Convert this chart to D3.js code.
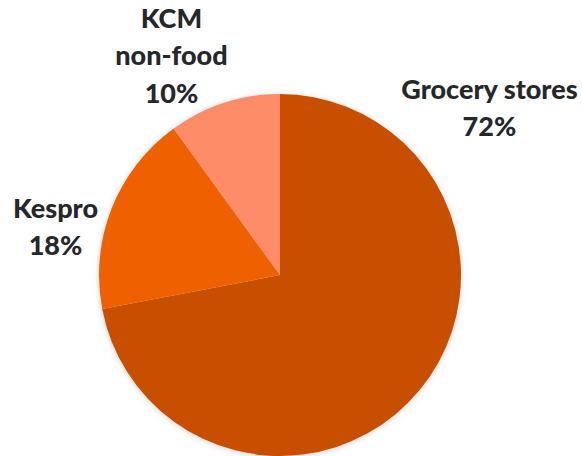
<!DOCTYPE html>
<html><head><meta charset="utf-8">
<script src="https://cdn.jsdelivr.net/npm/d3@7"></script>
<style>
html,body{margin:0;padding:0;background:#fff;}
svg text{font-family:Lato,"Open Sans",sans-serif;font-weight:900;fill:#25272a;}
</style></head>
<body>
<svg id="chart" width="582" height="456"></svg>
<script>
const categories = ["Grocery stores", "Kespro", "KCM non-food"];
const values = [72, 18, 10];
const labelLines = [["Grocery stores", "72%"], ["Kespro", "18%"], ["KCM", "non-food", "10%"]];
const colors = ["#C85000", "#EE6100", "#FF8C69"];

const W = 582, H = 456;
const cx = 280, cy = 275, R = 181;
const svg = d3.select("#chart");

const defs = svg.append("defs");
const f = defs.append("filter").attr("id","sh").attr("x","-20%").attr("y","-20%").attr("width","140%").attr("height","140%");
f.append("feDropShadow").attr("dx",0).attr("dy",1).attr("stdDeviation",3).attr("flood-color","#000").attr("flood-opacity",0.18);

const data = categories.map((c,i)=>({cat:c, value:values[i], lines:labelLines[i], color:colors[i]}));
const pie = d3.pie().value(d=>d.value).sort(null).startAngle(0).endAngle(2*Math.PI);
const arcs = pie(data);
const arc = d3.arc().innerRadius(0).outerRadius(R);

const g = svg.append("g").attr("transform",`translate(${cx},${cy})`);
g.append("g").attr("filter","url(#sh)")
  .selectAll("path").data(arcs).join("path")
  .attr("d", arc).attr("fill", d=>d.data.color);

// label anchors: angle (deg, clockwise from top) and distance from centre
const labelAngle = [51.4, -77.9, -26.3];
const labelDist = [268, 229.6, 245];
const fs = 27, lh = 37.5;
arcs.forEach((a,i)=>{
  const ang = labelAngle[i]*Math.PI/180;
  const x = Math.sin(ang)*labelDist[i];
  const y = -Math.cos(ang)*labelDist[i];
  const n = a.data.lines.length;
  const t = g.append("text").attr("text-anchor","middle").attr("font-size",fs);
  a.data.lines.forEach((ln,j)=>{
    t.append("tspan").attr("x",x).attr("y", y + (j-(n-1)/2)*lh + fs*0.36).text(ln);
  });
});
</script>
</body></html>
